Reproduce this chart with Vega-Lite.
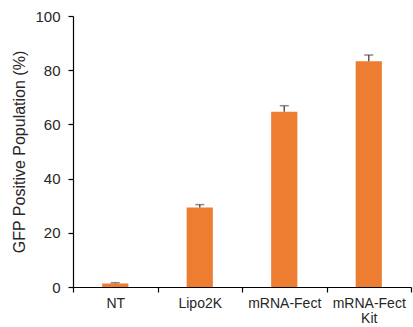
{
  "$schema": "https://vega.github.io/schema/vega-lite/v6.json",
  "autosize": "none",
  "width": 338,
  "height": 271,
  "padding": {"left": 73, "top": 16, "right": 2, "bottom": 40},
  "background": "white",
  "config": {
    "view": {"stroke": null},
    "font": "Liberation Sans",
    "axis": {"labelFont": "Liberation Sans", "titleFont": "Liberation Sans", "labelColor": "#262626", "titleColor": "#262626", "grid": false, "domainColor": "black", "tickColor": "black", "domainWidth": 1.2, "tickWidth": 1.2}
  },
  "data": {
    "values": [
      {"group": "NT", "value": 1.3, "hi": 1.6},
      {"group": "Lipo2K", "value": 29.3, "hi": 30.4},
      {"group": "mRNA-Fect", "value": 64.7, "hi": 66.9},
      {"group": "mRNA-Fect Kit", "value": 83.3, "hi": 85.6}
    ]
  },
  "encoding": {
    "x": {
      "field": "group",
      "type": "nominal",
      "sort": null,
      "scale": {"paddingInner": 0, "paddingOuter": 0},
      "axis": {
        "title": null,
        "labelAngle": 0,
        "labelFontSize": 14,
        "tickSize": 5,
        "tickBand": "extent",
        "labelPadding": 4,
        "labelLineHeight": 15,
        "labelExpr": "datum.label == 'mRNA-Fect Kit' ? ['mRNA-Fect', 'Kit'] : datum.label"
      }
    }
  },
  "layer": [
    {
      "mark": {"type": "bar", "color": "#ED7D31", "width": {"band": 0.31}},
      "encoding": {
        "y": {
          "field": "value",
          "type": "quantitative",
          "scale": {"domain": [0, 100]},
          "axis": {
            "title": "GFP Positive Population (%)",
            "titleFontSize": 16,
            "titleFontWeight": "normal",
            "titlePadding": 7,
            "labelFontSize": 15,
            "tickSize": 5,
            "labelPadding": 8,
            "values": [0, 20, 40, 60, 80, 100]
          }
        }
      }
    },
    {
      "mark": {"type": "rule", "color": "#595959", "strokeWidth": 1.5},
      "encoding": {
        "y": {"field": "value", "type": "quantitative"},
        "y2": {"field": "hi"}
      }
    },
    {
      "mark": {"type": "tick", "color": "#595959", "thickness": 1.5, "size": 9},
      "encoding": {
        "y": {"field": "hi", "type": "quantitative"}
      }
    }
  ]
}
